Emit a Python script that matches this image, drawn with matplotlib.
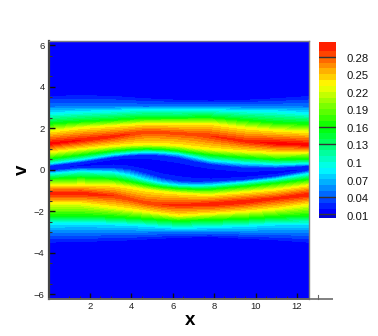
import numpy as np
import matplotlib
matplotlib.use("Agg")
import matplotlib.pyplot as plt
from matplotlib.colors import ListedColormap, BoundaryNorm, LinearSegmentedColormap
from matplotlib.ticker import FixedLocator, NullFormatter

plt.rcParams['font.family'] = ['Liberation Sans', 'DejaVu Sans']

x_stations = [0.0, 1.571, 3.142, 3.927, 4.712, 5.498, 6.283, 7.069, 7.854, 9.425, 10.996, 12.566]

# v position of each colour edge at those stations, top of the plot to bottom
v_top    = [6.2] * 12
v_u01    = [3.7, 3.75, 3.7, 3.62, 3.55, 3.5, 3.45, 3.42, 3.4, 3.45, 3.55, 3.7]
v_u05    = [3.02, 3.03, 3.03, 3.03, 3.02, 3.03, 3.03, 3.03, 3.03, 3.03, 3.03, 3.02]
v_ucyan  = [2.7, 2.78, 2.83, 2.87, 2.9, 2.88, 2.87, 2.87, 2.87, 2.83, 2.8, 2.7]
v_ugreen = [2.2, 2.3, 2.38, 2.43, 2.47, 2.48, 2.48, 2.5, 2.5, 2.38, 2.25, 2.2]
v_uyell  = [1.82, 2.0, 2.1, 2.15, 2.2, 2.2, 2.2, 2.2, 2.2, 2.0, 1.87, 1.8]
v_uridge = [1.25, 1.42, 1.6, 1.72, 1.82, 1.8, 1.75, 1.7, 1.62, 1.38, 1.27, 1.2]
v_iyell  = [.86, 1.02, 1.16, 1.21, 1.23, 1.22, 1.18, 1.08, 1.0, .9, .83, .86]
v_igreen = [.54, .72, .92, .98, 1.02, 1.0, .92, .82, .72, .6, .51, .54]
v_icyan  = [.30, .5, .74, .82, .86, .84, .78, .62, .45, .33, .27, .30]
v_iedge  = [.2, .38, .62, .7, .73, .7, .6, .42, .28, .12, .1, .2]
v_chan   = [.03, .2, .38, .38, .3, .12, -.02, -.16, -.26, -.26, -.13, .03]
v_jedge  = [-.05, .08, .08, 0, -.2, -.43, -.56, -.6, -.58, -.5, -.33, -.05]
v_jcyan  = [-.2, -.08, -.13, -.28, -.5, -.67, -.76, -.78, -.76, -.62, -.46, -.2]
v_jgreen = [-.45, -.38, -.45, -.58, -.74, -.86, -.92, -.95, -.95, -.82, -.66, -.48]
v_jyell  = [-.77, -.74, -.77, -.87, -.99, -1.08, -1.15, -1.2, -1.23, -1.1, -.97, -.77]
v_lridge = [-1.14, -1.14, -1.25, -1.42, -1.6, -1.68, -1.7, -1.68, -1.66, -1.55, -1.38, -1.2]
v_lyell  = [-1.6, -1.6, -1.8, -1.9, -2.0, -2.1, -2.2, -2.15, -2.1, -2.0, -1.87, -1.65]
v_lgreen = [-2.2, -2.2, -2.25, -2.3, -2.35, -2.4, -2.45, -2.42, -2.4, -2.35, -2.25, -2.2]
v_lcyan  = [-2.6, -2.55, -2.6, -2.64, -2.68, -2.75, -2.8, -2.78, -2.75, -2.7, -2.6, -2.6]
v_l05    = [-3.0, -3.0, -3.0, -3.0, -3.0, -2.98, -2.98, -2.98, -2.98, -3.0, -3.0, -3.0]
v_l01    = [-3.65, -3.6, -3.55, -3.5, -3.45, -3.4, -3.35, -3.32, -3.3, -3.4, -3.5, -3.65]
v_bottom = [-6.2] * 12

# Field value on each of those edges
f_far = 0.004
f_01, f_05, f_cyan, f_green, f_yell = 0.01, 0.05, 0.085, 0.158, 0.232
f_edge = 0.03
f_uridge = [.305, .30, .295, .29, .285, .285, .285, .285, .29, .295, .305, .305]
f_lridge = [.30, .30, .29, .285, .285, .29, .293, .295, .30, .30, .295, .30]
f_chan   = [.02, .015, .01, .008, .006, .006, .006, .006, .006, .012, .012, .02]

levels = [round(0.01 * i, 2) for i in range(1, 31)]
bar_labels = ['0.01', '0.04', '0.07', '0.1', '0.13', '0.16', '0.19', '0.22', '0.25', '0.28']
bar_label_values = [0.01, 0.04, 0.07, 0.10, 0.13, 0.16, 0.19, 0.22, 0.25, 0.28]
bar_lines = [0.01, 0.04, 0.13, 0.16, 0.28]

x_major = [2, 4, 6, 8, 10, 12]
x_minor = [1, 1.5, 2.5, 3, 4.5, 5.5, 6.5, 7.5, 8.5, 9, 9.5, 10.5, 11, 11.5]
y_major = [-6, -4, -2, 0, 2, 4, 6]
y_minor = [5.5, 4.5, 3.5, 2.5, 1, .5, -.5, -1, -1.5, -2.5, -3, -4.5, -5.5]

W, H = 378, 336
fig = plt.figure(figsize=(W / 100, H / 100), dpi=100, facecolor='white')


def box(l, t, r, b):
    return [l / W, 1 - b / H, (r - l) / W, (b - t) / H]


ax = fig.add_axes(box(48.6, 41, 308.6, 298.5))

base = LinearSegmentedColormap.from_list('tp', [(0, 0, 1), (0, 1, 1), (0, 1, 0), (1, 1, 0), (1, 0, 0)])
n = len(levels) - 1
band_colors = [base(i / n) for i in range(n)]
cmap = ListedColormap(band_colors)
cmap.set_under((0, 0, 1))
cmap.set_over((1, 0, 0))
norm = BoundaryNorm(levels, n)

V = np.array([v_bottom, v_l01, v_l05, v_lcyan, v_lgreen, v_lyell, v_lridge, v_jyell, v_jgreen,
              v_jcyan, v_jedge, v_chan, v_iedge, v_icyan, v_igreen, v_iyell, v_uridge, v_uyell,
              v_ugreen, v_ucyan, v_u05, v_u01, v_top])
nc = len(x_stations)
const = lambda f: [f] * nc
Z = np.array([const(f_far), const(f_01), const(f_05), const(f_cyan), const(f_green), const(f_yell),
              f_lridge, const(f_yell), const(f_green), const(f_cyan), const(f_edge), f_chan,
              const(f_edge), const(f_cyan), const(f_green), const(f_yell), f_uridge, const(f_yell),
              const(f_green), const(f_cyan), const(f_05), const(f_01), const(f_far)])
X = np.tile(x_stations, (V.shape[0], 1))

ax.set_facecolor((0, 0, 1))
ax.contourf(X, V, Z, levels=levels, cmap=cmap, norm=norm, extend='both')
ax.set_xlim(0, 12.566)
ax.set_ylim(-6.2, 6.2)

ax.xaxis.set_major_locator(FixedLocator(x_major))
ax.xaxis.set_minor_locator(FixedLocator(x_minor))
ax.yaxis.set_major_locator(FixedLocator(y_major))
ax.yaxis.set_minor_locator(FixedLocator(y_minor))
ax.xaxis.set_minor_formatter(NullFormatter())
ax.yaxis.set_minor_formatter(NullFormatter())
ax.tick_params(which='major', direction='in', length=4.6, width=1.0, color='#111111',
               labelsize=6.8, pad=2.8, labelcolor='#222222')
ax.tick_params(which='minor', direction='in', length=2.4, width=0.8, color='#333333')

for side in ('top', 'right'):
    ax.spines[side].set_color('#808080')
    ax.spines[side].set_linewidth(1.0)
ax.spines['left'].set_color('#444444')
ax.spines['left'].set_linewidth(1.6)
ax.spines['bottom'].set_color('#666666')
ax.spines['bottom'].set_linewidth(1.4)

# Axis line runs on past the plot, with one more tick at x = 13
trans = ax.get_xaxis_transform()
ax.plot([12.566, 13.74], [0, 0], transform=trans, clip_on=False, color='#808080', lw=1.4,
        solid_capstyle='butt')
ax.plot([13, 13], [0, 0.012], transform=trans, clip_on=False, color='#666666', lw=0.8)

ax.set_xlabel('x', fontsize=13.5, fontweight='bold', labelpad=0)
ax.xaxis.set_label_coords(141.5 / 260, -22 / 257.5, transform=ax.transAxes)
ax.xaxis.label.set_va('center')
ax.set_ylabel('v', fontsize=13.5, fontweight='bold', labelpad=0)
ax.yaxis.set_label_coords(-26 / 260, 0.5, transform=ax.transAxes)
ax.yaxis.label.set_va('center')

# Contour legend
cax = fig.add_axes(box(319, 41.5, 336.3, 218))
y_low, y_high = 0.004, 0.306
edges = [y_low] + levels[:-1] + [y_high]
colors = [(0, 0, 0.85)] + band_colors
for lo, hi, c in zip(edges[:-1], edges[1:], colors):
    cax.axhspan(lo, hi, color=c, lw=0)
for val in bar_lines:
    cax.axhline(val, color='#333333', lw=1.0)
cax.set_xlim(0, 1)
cax.set_ylim(y_low, y_high)
cax.axis('off')
for val, lab in zip(bar_label_values, bar_labels):
    cax.annotate(lab, xy=(1, val), xycoords=cax.get_yaxis_transform(),
                 xytext=(7, -1.5), textcoords='offset points', fontsize=8.1,
                 va='center', ha='left', color='#111111')

fig.savefig('out.png', dpi=100, facecolor='white')
